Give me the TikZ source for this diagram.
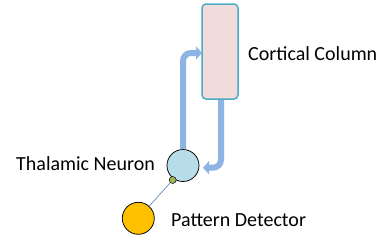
\documentclass[tikz,border=0pt]{standalone}
\usepackage{fontspec}
\setmainfont{Carlito}
\usetikzlibrary{arrows.meta}
\definecolor{arrowblue}{RGB}{142,180,227}
\definecolor{colfill}{RGB}{242,220,219}
\definecolor{colborder}{RGB}{75,172,198}
\definecolor{thalfill}{RGB}{183,222,232}
\definecolor{dotgreen}{RGB}{155,187,89}
\definecolor{detorange}{RGB}{255,192,0}
\definecolor{linkblue}{RGB}{79,129,189}
\begin{document}
\begin{tikzpicture}[x=1pt,y=-1pt,
  lbl/.style={anchor=base west,inner sep=0pt,font=\fontsize{20}{24}\selectfont},
  flow/.style={draw=arrowblue,line width=6pt,rounded corners=8pt,-{Triangle[width=13pt,length=6pt]}},
  cell/.style={circle,draw=black,line width=0.75pt,minimum size=32pt,inner sep=0pt}]
\useasboundingbox (0,0) rectangle (392,247);
\node[draw=colborder,fill=colfill,line width=1.5pt,rounded corners=4pt,minimum width=36pt,minimum height=95pt,inner sep=0pt] (col) at (220,51.5) {};
\node[cell,fill=thalfill] (thal) at (183,165.5) {};
\node[cell,fill=detorange] (det) at (138.3,218.3) {};
\node[circle,draw=black,line width=0.5pt,fill=dotgreen,minimum size=7pt,inner sep=0pt] (syn) at (172.7,180) {};
\draw[linkblue,line width=0.6pt] (syn) -- (det);
\coordinate (tipA) at (202,53);
\coordinate (tipB) at (203,167.7);
\draw[flow] (thal.north) -- (183,53) -- (tipA);
\draw[flow] (col.south -| 221,0) -- (221,167.7) -- (tipB);
\node[lbl] (lcol) at (248,60.7) {Cortical Column};
\node[lbl] (lthal) at (16,170) {Thalamic Neuron};
\node[lbl] (ldet) at (171,226.7) {Pattern Detector};
\end{tikzpicture}
\end{document}
